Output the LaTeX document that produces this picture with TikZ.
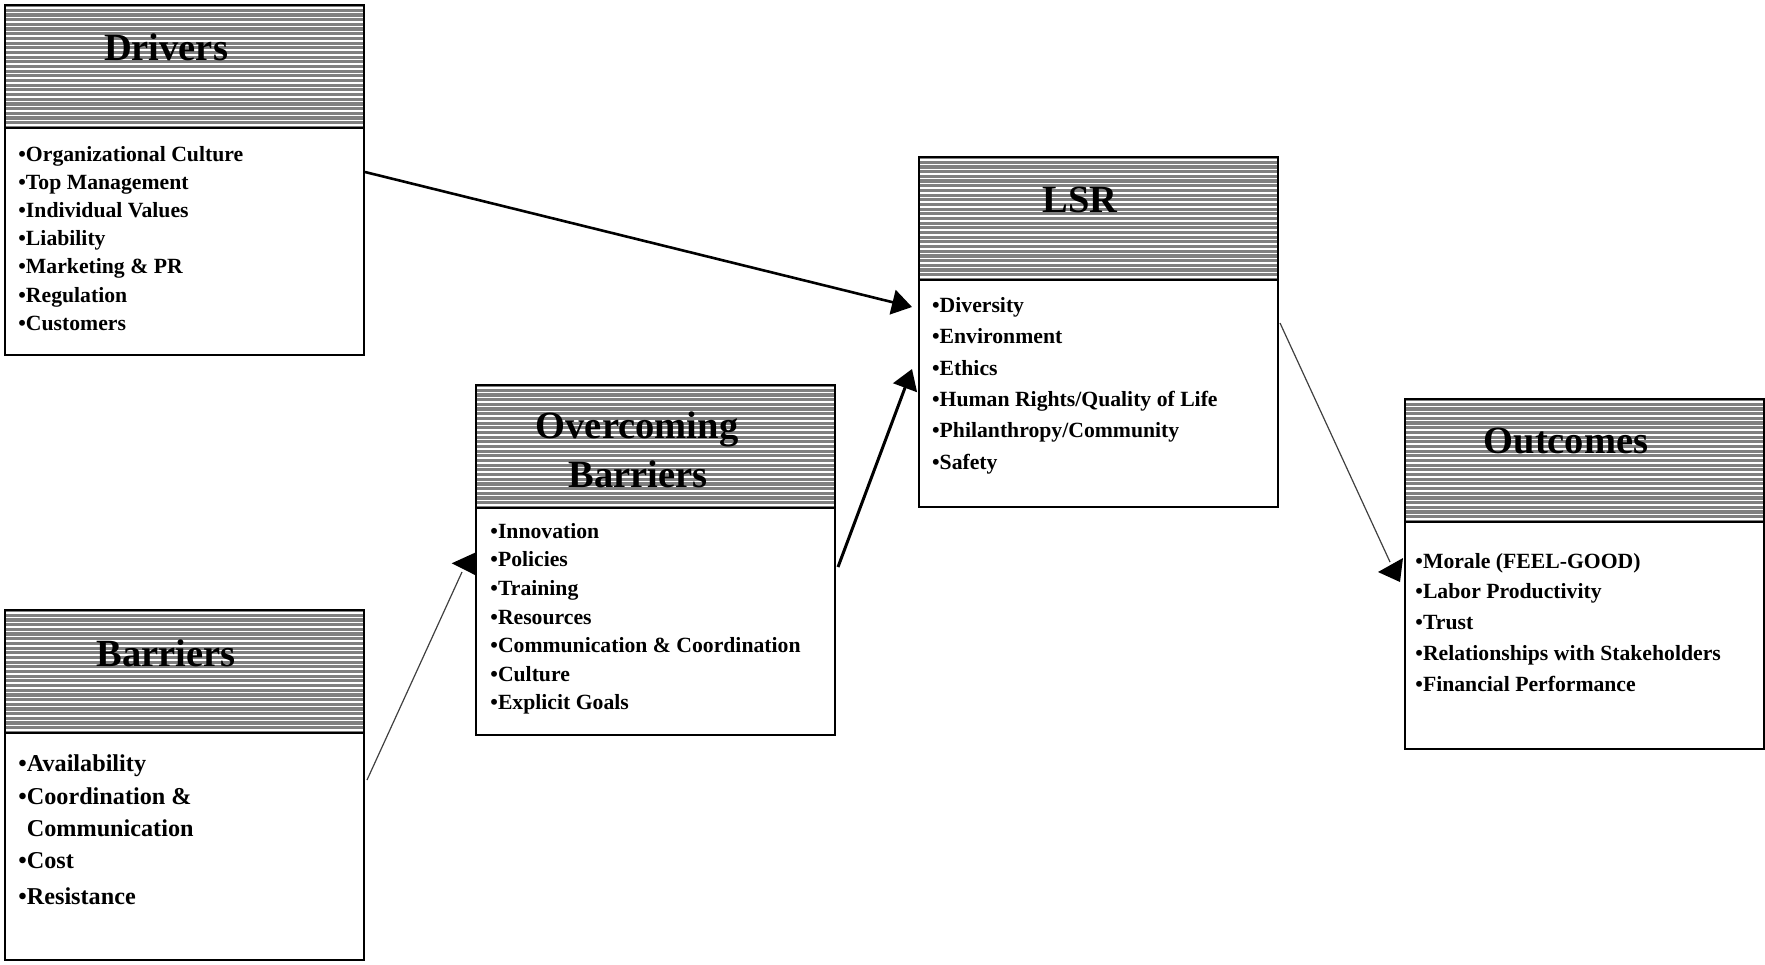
\documentclass[tikz,border=0pt]{standalone}
\usepackage{fontspec}
\setmainfont{Liberation Serif}
\usetikzlibrary{calc,arrows.meta}

\begin{document}
\begin{tikzpicture}[x=0.5pt,y=-0.5pt,
	box/.style={draw,line width=1pt,anchor=north west,minimum width=179.5pt,minimum height=175pt,inner sep=0pt},
	title/.style={anchor=base,inner sep=0pt,font=\fontsize{19.25}{24}\selectfont\bfseries},
	item/.style={anchor=base west,inner sep=0pt,font=\fontsize{10.85}{13}\selectfont\bfseries},
	big item/.style={item,font=\fontsize{12.1}{14.5}\selectfont\bfseries},
	heavy arrow/.style={line width=1.3pt,-{Triangle[length=10pt,width=12.5pt]}},
	thin link/.style={line width=0.6pt,black!75}]
\useasboundingbox (0,0) rectangle (1765,964);

%boxes
\foreach \n/\x/\y in {drv/4/4,bar/4/609,ovc/475/384,lsr/918/156,out/1404/398}{
	\fill [gray] (\x,\y) rectangle ++(359,124);
	\foreach \k in {0,...,25}{
		\draw [white,line width=0.75pt] (\x,\y+4+\k*4.68)--++(359,0);
	}
	\node[box] (\n) at (\x,\y) {};
	\draw [line width=1.25pt] ($(\n.north west)+(0,124)$)--($(\n.north east)+(0,124)$);
}

%titles
\node[title] (drv-t) at ($(drv.north west)+(162,56)$) {Drivers};
\node[title] (bar-t) at ($(bar.north west)+(162,57)$) {Barriers};
\node[title] (ovc-t1) at ($(ovc.north west)+(162,54)$) {Overcoming};
\node[title] (ovc-t2) at ($(ovc.north west)+(163,103)$) {Barriers};
\node[title] (lsr-t) at ($(lsr.north west)+(162,56)$) {LSR};
\node[title] (out-t) at ($(out.north west)+(162,55)$) {Outcomes};

%Drivers
\foreach \t [count=\i from 0] in {Organizational Culture,Top Management,Individual Values,Liability,Marketing \& PR,Regulation,Customers}{
	\node[item] (drv-\i) at ($(drv.north west)+(14,157+\i*28.2)$) {•\t};
}
%Barriers
\foreach \t/\d [count=\i] in {•Availability/162,•Coordination \&/195,\phantom{•}Communication/227,•Cost/259,•Resistance/295}{
	\node[big item] (bar-\i) at ($(bar.north west)+(14,\d)$) {\t};
}
%Overcoming Barriers
\foreach \t [count=\i from 0] in {Innovation,Policies,Training,Resources,Communication \& Coordination,Culture,Explicit Goals}{
	\node[item] (ovc-\i) at ($(ovc.north west)+(15,154.3+\i*28.6)$) {•\t};
}
%LSR
\foreach \t [count=\i from 0] in {Diversity,Environment,Ethics,Human Rights/Quality of Life,Philanthropy/Community,Safety}{
	\node[item] (lsr-\i) at ($(lsr.north west)+(13.7,156.7+\i*31.26)$) {•\t};
}
%Outcomes
\foreach \t [count=\i from 0] in {Morale (FEEL-GOOD),Labor Productivity,Trust,Relationships with Stakeholders,Financial Performance}{
	\node[item] (out-\i) at ($(out.north west)+(11,170+\i*30.85)$) {•\t};
}

%Drivers -> LSR
\draw [heavy arrow] ($(drv.north east)+(0,168)$)--($(lsr.north west)+(-6,151)$);
%Overcoming -> LSR
\draw [heavy arrow,line width=1.5pt] ($(ovc.north east)+(2,183)$)--($(lsr.north west)+(-6,213)$);
%Barriers -> Overcoming
\draw [thin link] ($(bar.north east)+(2,171)$)--($(ovc.north west)+(-13,188)$);
\fill ($(ovc.north west)+(0,168.7)$)--($(ovc.north west)+(-23.3,179.3)$)--($(ovc.north west)+(0,191)$)--cycle;
%LSR -> Outcomes
\draw [thin link] ($(lsr.north east)+(1,167)$)--($(out.north west)+(-14,164)$);
\fill ($(out.north west)+(-1,160)$)--($(out.north west)+(-26,174)$)--($(out.north west)+(-4,184)$)--cycle;

\end{tikzpicture}
\end{document}
